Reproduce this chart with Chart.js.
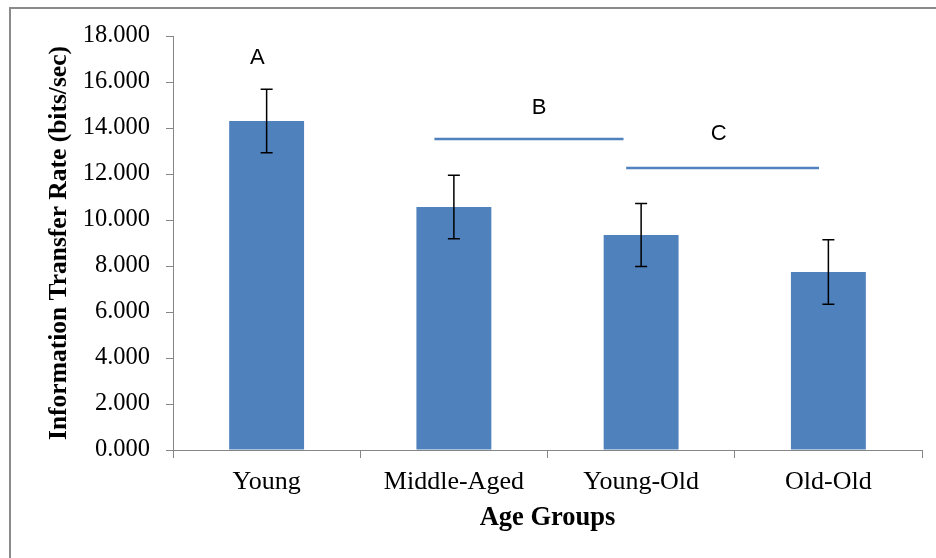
<!DOCTYPE html>
<html>
<head>
<meta charset="utf-8">
<script src="https://cdn.jsdelivr.net/npm/chart.js"></script>
<style>
  html, body { margin: 0; padding: 0; background: #fff; }
  #wrap { position: relative; width: 936px; height: 558px; overflow: hidden; }
  #frame { position: absolute; left: 9px; top: 7px; width: 940px; height: 560px;
           border: 2px solid #8a8a8a; box-sizing: border-box; }
  #myChart { position: absolute; left: 0; top: 0; }
</style>
</head>
<body>
<div id="wrap">
  <div id="frame"></div>
  <canvas id="myChart" width="936" height="558"></canvas>
</div>

<script>
// data
var groups = ['Young', 'Middle-Aged', 'Young-Old', 'Old-Old'];
var rates = [14.30, 10.57, 9.35, 7.74];
var errors = [1.38, 1.38, 1.37, 1.40];

// significance groups: letter, where it sits (category index, value), bracket line
var sigLetters = ['A', 'B', 'C'];
var sigLetterIdx = [-0.05, 1.455, 2.414];
var sigLetterVal = [17.04, 14.86, 13.75];
var sigLineFrom = [null, 0.896, 1.92];
var sigLineTo = [null, 1.906, 2.95];
var sigLineVal = [null, 13.52, 12.26];

var barColor = '#4f81bd';
var axisGray = '#868686';

// category index (can be fractional) -> pixel
function catPx(x, idx) {
  var a = x.getPixelForValue(0), b = x.getPixelForValue(1);
  return a + (b - a) * idx;
}

var errorBars = {
  id: 'errorBars',
  afterDatasetsDraw: function(chart) {
    var ctx = chart.ctx, y = chart.scales.y;
    var meta = chart.getDatasetMeta(0);
    ctx.save();
    ctx.strokeStyle = '#000';
    ctx.lineWidth = 1.5;
    meta.data.forEach(function(bar, i) {
      var top = y.getPixelForValue(rates[i] + errors[i]);
      var bot = y.getPixelForValue(rates[i] - errors[i]);
      ctx.beginPath();
      ctx.moveTo(bar.x, top); ctx.lineTo(bar.x, bot);
      ctx.moveTo(bar.x - 6, top); ctx.lineTo(bar.x + 6, top);
      ctx.moveTo(bar.x - 6, bot); ctx.lineTo(bar.x + 6, bot);
      ctx.stroke();
    });
    ctx.restore();
  }
};

var sigMarks = {
  id: 'sigMarks',
  afterDatasetsDraw: function(chart) {
    var ctx = chart.ctx, x = chart.scales.x, y = chart.scales.y;
    ctx.save();
    ctx.fillStyle = '#000';
    ctx.font = '22px "Liberation Sans", Arial, sans-serif';
    ctx.textAlign = 'center';
    ctx.textBaseline = 'middle';
    sigLetters.forEach(function(t, i) {
      ctx.fillText(t, catPx(x, sigLetterIdx[i]), y.getPixelForValue(sigLetterVal[i]));
      if (sigLineVal[i] != null) {
        var py = y.getPixelForValue(sigLineVal[i]);
        ctx.strokeStyle = barColor;
        ctx.lineWidth = 2.5;
        ctx.beginPath();
        ctx.moveTo(catPx(x, sigLineFrom[i]), py);
        ctx.lineTo(catPx(x, sigLineTo[i]), py);
        ctx.stroke();
      }
    });
    ctx.restore();
  }
};

var serif = '"Liberation Serif", "Times New Roman", serif';

new Chart(document.getElementById('myChart'), {
  type: 'bar',
  data: {
    labels: groups,
    datasets: [{
      data: rates,
      backgroundColor: barColor,
      borderWidth: 0,
      categoryPercentage: 1.0,
      barPercentage: 0.4
    }]
  },
  options: {
    responsive: false,
    animation: false,
    layout: { padding: { top: 36, right: 14, left: 0, bottom: 0 } },
    plugins: { legend: { display: false }, tooltip: { enabled: false } },
    scales: {
      y: {
        min: 0, max: 18,
        afterFit: function(s) { s.width = 173; },
        ticks: {
          stepSize: 2, padding: 16, color: '#000',
          font: { family: serif, size: 24.5 },
          callback: function(v) { return v.toFixed(3); }
        },
        grid: { drawOnChartArea: false, drawTicks: true, tickLength: 7, color: axisGray },
        border: { color: axisGray, width: 1 },
        title: {
          display: true, text: 'Information Transfer Rate (bits/sec)', color: '#000',
          font: { family: serif, size: 25.5, weight: 'bold', lineHeight: 1.2 },
          padding: { top: 44, bottom: 0 }
        }
      },
      x: {
        afterFit: function(s) { s.height = 108; },
        ticks: { color: '#000', padding: 9, font: { family: serif, size: 26, lineHeight: 1.2 } },
        grid: { drawOnChartArea: false, drawTicks: true, tickLength: 8, color: axisGray },
        border: { color: axisGray, width: 1 },
        title: {
          display: true, text: 'Age Groups', color: '#000',
          font: { family: serif, size: 26.5, weight: 'bold', lineHeight: 1.2 },
          padding: { top: 0, bottom: 24 }
        }
      }
    }
  },
  plugins: [errorBars, sigMarks]
});
</script>
</body>
</html>
